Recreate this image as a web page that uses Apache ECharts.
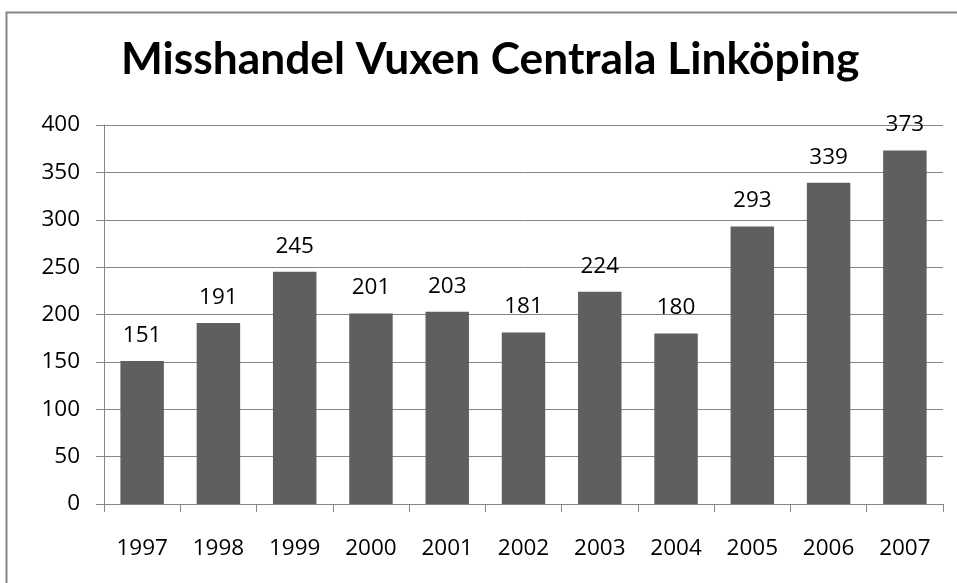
<!DOCTYPE html>
<html><head><meta charset="utf-8">
<script src="https://cdn.jsdelivr.net/npm/echarts@6/dist/echarts.min.js"></script>
<style>html,body{margin:0;padding:0;background:#fff}#c{width:957px;height:583px}</style>
</head><body><div id="c"></div>
<script>
var years = ['1997','1998','1999','2000','2001','2002','2003','2004','2005','2006','2007'];
var values = [151,191,245,201,203,181,224,180,293,339,373];
var yTicks = {min:0, max:400, interval:50};
var titleText = 'Misshandel Vuxen Centrala Linköping';

var chart = echarts.init(document.getElementById('c'), null, {renderer:'canvas'});
var font = 'Open Sans';
chart.setOption({
  animation:false,
  backgroundColor:'#fff',
  graphic:[{type:'rect', shape:{x:6.5,y:12.5,width:960,height:600}, style:{fill:'none', stroke:'#868686', lineWidth:2}, silent:true}],
  title:{text:titleText, left:121, top:38, padding:0, textStyle:{fontFamily:'Lato', fontWeight:'bold', fontSize:44.3, color:'#000'}},
  grid:{left:104, top:125, right:14, bottom:79},
  xAxis:{type:'category', data:years,
    axisLine:{lineStyle:{color:'#868686', width:1}},
    axisTick:{show:true, length:8, lineStyle:{color:'#868686'}},
    axisLabel:{color:'#000', fontFamily:font, fontSize:22.5, margin:33}},
  yAxis:{type:'value', min:yTicks.min, max:yTicks.max, interval:yTicks.interval,
    axisLine:{show:true, lineStyle:{color:'#868686'}},
    axisTick:{show:true, length:8, lineStyle:{color:'#868686'}},
    splitLine:{lineStyle:{color:'#868686', width:1}},
    axisLabel:{color:'#000', fontFamily:font, fontSize:22.5, margin:24}},
  series:[{type:'bar', data:values, barCategoryGap:'43%',
    itemStyle:{color:'#5f5f5f'},
    label:{show:true, position:'top', distance:14, color:'#000', fontFamily:font, fontSize:22.5}}]
});
</script></body></html>
